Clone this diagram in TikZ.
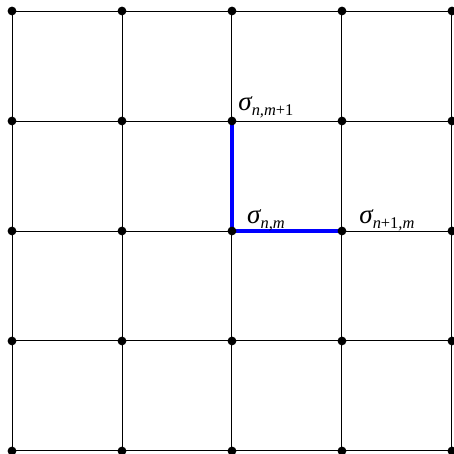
\documentclass[tikz,border=0pt]{standalone}
\usepackage{fontspec}
\usepackage{xcolor}
\usepackage{tikz}
\usetikzlibrary{positioning, calc}
\newfontfamily\labelfont{Liberation Serif}
\definecolor{BondBlue}{RGB}{0, 0, 255}
\newcommand{\spinsub}[1]{{\labelfont\itshape σ\raisebox{-0.4ex}{\fontsize{8.5}{10}\selectfont #1}}}

\begin{document}
\begin{tikzpicture}[
    gridline/.style={draw=black, line width=0.5pt},
    bond/.style={draw=BondBlue, line width=1.6pt},
    site/.style={circle, fill=black, inner sep=0pt, minimum size=0.16cm},
    spin/.style={anchor=base west, inner sep=0pt, font=\fontsize{14}{16}\selectfont}
  ]
  \useasboundingbox (-0.218,-0.055) rectangle (8.036,8.2);
  % lattice points
  \foreach \i in {0,...,4} {
    \foreach \j in {0,...,4} {
      \coordinate (p\i\j) at (2*\i, 2*\j);
    }
  }
  \foreach \i in {0,...,4} {
    \draw[gridline] (p\i0) -- (p\i4);
    \draw[gridline] (p0\i) -- (p4\i);
  }
  % highlighted bonds
  \draw[bond] (p23) -- (p22) -- (p32);
  \foreach \i in {0,...,4} {
    \foreach \j in {0,...,4} {
      \node[site] (s\i\j) at (p\i\j) {};
    }
  }
  % spin labels
  \node[spin] (lab23) at ($(p23)+(0.11,0.19)$) {\spinsub{n,m{\upshape+1}}};
  \node[spin] (lab22) at ($(p22)+(0.27,0.13)$) {\spinsub{n,m}};
  \node[spin] (lab32) at ($(p32)+(0.31,0.13)$) {\spinsub{n{\upshape+1},m}};
\end{tikzpicture}
\end{document}
